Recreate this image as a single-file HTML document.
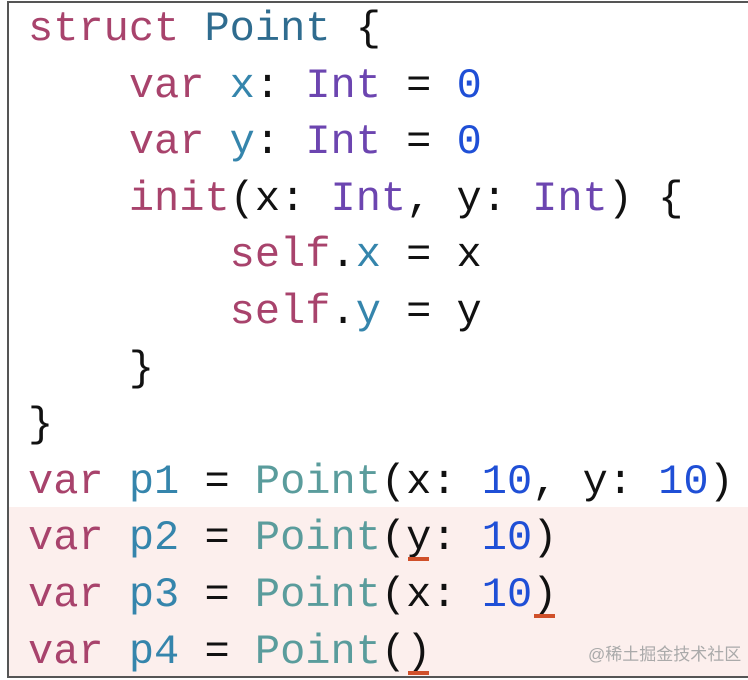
<!DOCTYPE html>
<html><head><meta charset="utf-8"><style>
html,body{margin:0;padding:0;background:#fff;}
#c{position:relative;width:748px;height:680px;overflow:hidden;background:#fff;}
.frame{position:absolute;left:7px;top:1px;width:760px;height:677px;border:2px solid #555;box-sizing:border-box;}
.pink{position:absolute;left:9px;top:507px;width:739px;height:170px;background:#fcefed;}
pre{position:absolute;left:28px;top:1px;margin:0;font-family:"Liberation Mono",monospace;font-size:42px;line-height:56.6px;color:#111;}
.k{color:#a8436c}.t{color:#2f6c8f}.ty{color:#6c45b0}.v{color:#3585ac}.n{color:#1f4fd6}.c{color:#5a9c9c}
.u{position:relative}
.u::after{content:"";position:absolute;left:2px;right:2px;bottom:1px;height:4px;background:#d0502a}
.wm{position:absolute;left:588px;top:640px;font-family:"Liberation Sans","Noto Sans CJK SC",sans-serif;font-size:17px;color:#aaa;}
</style></head><body><div id="c">
<div class="pink"></div>
<div class="frame"></div>
<pre><span class="k">struct</span> <span class="t">Point</span> {
    <span class="k">var</span> <span class="v">x</span>: <span class="ty">Int</span> = <span class="n">0</span>
    <span class="k">var</span> <span class="v">y</span>: <span class="ty">Int</span> = <span class="n">0</span>
    <span class="k">init</span>(x: <span class="ty">Int</span>, y: <span class="ty">Int</span>) {
        <span class="k">self</span>.<span class="v">x</span> = x
        <span class="k">self</span>.<span class="v">y</span> = y
    }
}
<span class="k">var</span> <span class="v">p1</span> = <span class="c">Point</span>(x: <span class="n">10</span>, y: <span class="n">10</span>)
<span class="k">var</span> <span class="v">p2</span> = <span class="c">Point</span>(<span class="u">y</span>: <span class="n">10</span>)
<span class="k">var</span> <span class="v">p3</span> = <span class="c">Point</span>(x: <span class="n">10</span><span class="u">)</span>
<span class="k">var</span> <span class="v">p4</span> = <span class="c">Point</span>(<span class="u">)</span></pre>
<div class="wm">@稀土掘金技术社区</div>
</div></body></html>
